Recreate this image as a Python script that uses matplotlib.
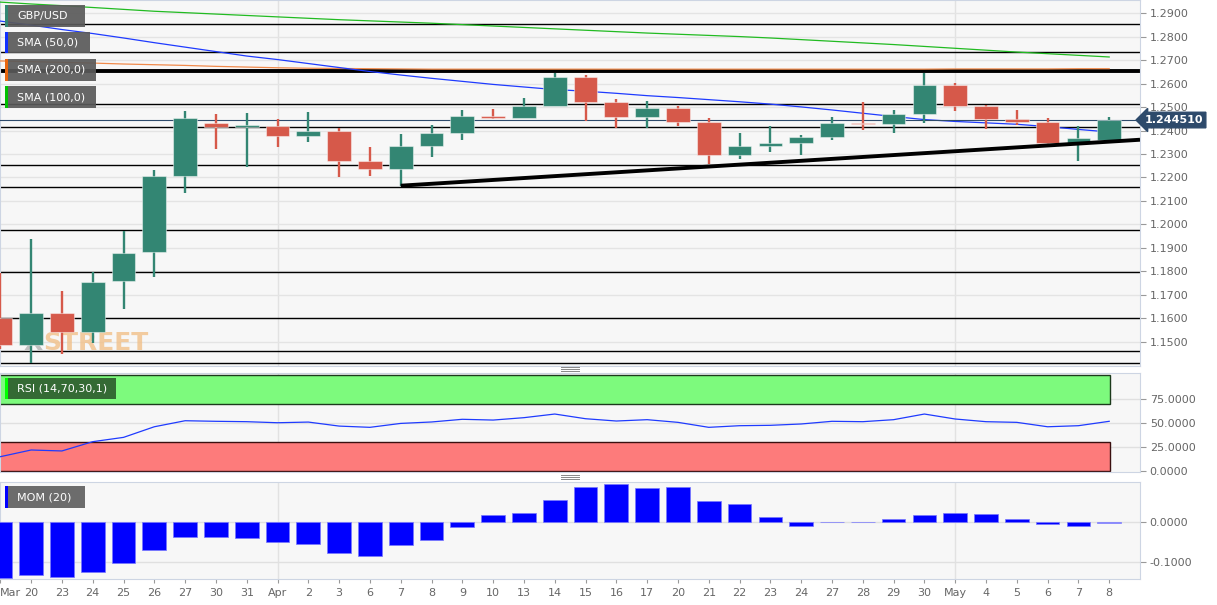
import numpy as np
import matplotlib.pyplot as plt
from matplotlib.patches import Rectangle
from matplotlib.lines import Line2D

# Data GBP/USD harian
labels = ['Mar', '20', '23', '24', '25', '26', '27', '30', '31', 'Apr', '2', '3', '6', '7',
          '8', '9', '10', '13', '14', '15', '16', '17', '20', '21', '22', '23', '24', '27',
          '28', '29', '30', 'May', '4', '5', '6', '7', '8']
opens = [1.1599, 1.1486, 1.1621, 1.1542, 1.1758, 1.1881, 1.2207, 1.2433, 1.2416, 1.2419,
         1.2377, 1.2399, 1.2270, 1.2235, 1.2334, 1.2388, 1.2462, 1.2455, 1.2506, 1.2627,
         1.2520, 1.2459, 1.2496, 1.2436, 1.2294, 1.2335, 1.2346, 1.2374, 1.2433, 1.2427,
         1.2471, 1.2596, 1.2506, 1.2448, 1.2436, 1.2346, 1.2360]
highs = [1.1792, 1.1936, 1.1714, 1.1798, 1.1973, 1.2232, 1.2483, 1.2471, 1.2474, 1.2448,
         1.2478, 1.2410, 1.2329, 1.2385, 1.2422, 1.2488, 1.2491, 1.2538, 1.2647, 1.2637,
         1.2533, 1.2525, 1.2505, 1.2452, 1.2388, 1.2419, 1.2381, 1.2456, 1.2522, 1.2488,
         1.2647, 1.2604, 1.2509, 1.2488, 1.2452, 1.2419, 1.2456]
lows = [1.1468, 1.1407, 1.1447, 1.1495, 1.1638, 1.1777, 1.2132, 1.2320, 1.2243, 1.2331,
        1.2350, 1.2203, 1.2207, 1.2165, 1.2289, 1.2360, 1.2448, 1.2453, 1.2505, 1.2440,
        1.2410, 1.2410, 1.2418, 1.2256, 1.2277, 1.2307, 1.2297, 1.2360, 1.2402, 1.2391,
        1.2431, 1.2485, 1.2405, 1.2422, 1.2334, 1.2270, 1.2360]
closes = [1.1485, 1.1621, 1.1542, 1.1755, 1.1879, 1.2206, 1.2453, 1.2416, 1.2421, 1.2377,
          1.2399, 1.2271, 1.2235, 1.2334, 1.2388, 1.2462, 1.2455, 1.2505, 1.2627, 1.2520,
          1.2459, 1.2496, 1.2436, 1.2294, 1.2334, 1.2346, 1.2372, 1.2433, 1.2427, 1.2471,
          1.2596, 1.2506, 1.2448, 1.2438, 1.2346, 1.2368, 1.24451]

sma50 = [1.2867, 1.2850, 1.2831, 1.2814, 1.2795, 1.2775, 1.2756, 1.2737, 1.2718, 1.2703,
         1.2686, 1.2669, 1.2652, 1.2637, 1.2623, 1.2610, 1.2597, 1.2586, 1.2575, 1.2568,
         1.2559, 1.2549, 1.2541, 1.2532, 1.2523, 1.2513, 1.2501, 1.2488, 1.2474, 1.2460,
         1.2447, 1.2439, 1.2433, 1.2427, 1.2417, 1.2405, 1.2394]
sma100 = [1.2948, 1.2940, 1.2933, 1.2925, 1.2917, 1.2909, 1.2903, 1.2897, 1.2891, 1.2885,
          1.2879, 1.2873, 1.2868, 1.2863, 1.2858, 1.2852, 1.2846, 1.2840, 1.2834, 1.2828,
          1.2822, 1.2816, 1.2811, 1.2806, 1.2801, 1.2795, 1.2788, 1.2781, 1.2774, 1.2767,
          1.2759, 1.2751, 1.2743, 1.2735, 1.2728, 1.2721, 1.2714]
sma200 = [1.2697, 1.2694, 1.2691, 1.2688, 1.2684, 1.2681, 1.2678, 1.2674, 1.2671, 1.2668,
          1.2666, 1.2665, 1.2664, 1.2663, 1.2662, 1.2662, 1.2662, 1.2662, 1.2662, 1.2662,
          1.2662, 1.2662, 1.2662, 1.2662, 1.2662, 1.2662, 1.2662, 1.2662, 1.2662, 1.2662,
          1.2662, 1.2663, 1.2663, 1.2663, 1.2663, 1.2664, 1.2664]

rsi = [15.0, 22.0, 21.0, 30.7, 35.2, 46.3, 52.6, 52.0, 51.6, 50.5, 51.2, 47.0, 45.7, 49.8,
       51.3, 54.1, 53.3, 55.8, 59.6, 54.7, 52.3, 53.7, 50.9, 45.7, 47.4, 47.8, 49.2, 52.0,
       51.6, 53.7, 59.6, 54.4, 51.6, 50.9, 46.3, 47.4, 52.0]
mom = [-0.1405, -0.1331, -0.1380, -0.1240, -0.1025, -0.0686, -0.0372, -0.0355, -0.0405,
       -0.0496, -0.0554, -0.0777, -0.0843, -0.0579, -0.0438, -0.0116, 0.0174, 0.0231,
       0.0562, 0.0901, 0.0959, 0.0861, 0.0885, 0.0533, 0.0451, 0.0139, -0.0082, 0.0016,
       0.0008, 0.0090, 0.0197, 0.0230, 0.0213, 0.0098, -0.0041, -0.0090, -0.0016]

# Garis support / resistance
levels = [1.2854, 1.2734, 1.2515, 1.2414, 1.2252, 1.2161, 1.1976, 1.1798, 1.1599, 1.1459, 1.1410]
level_tebal = 1.2654
trend_x = [13, 37.0]
trend_y = [1.2165, 1.2361]

W, H = 1217, 605
hijau = '#338673'
merah = '#d6594a'
bg = '#f7f7f7'
spine_c = '#cdd5e3'

fig = plt.figure(figsize=(W / 100, H / 100), dpi=100)
fig.patch.set_facecolor('white')


def px_axes(x0, y0, x1, y1):
    return fig.add_axes([x0 / W, 1 - y1 / H, (x1 - x0) / W, (y1 - y0) / H])


ax = px_axes(0, 0, 1140, 366)
ax_rsi = px_axes(0, 373, 1140, 472)
ax_mom = px_axes(0, 481.7, 1140, 579)

x = np.arange(len(labels))
for a in (ax, ax_rsi, ax_mom):
    a.set_facecolor(bg)
    a.set_xlim(-0.01, 37.0)
    a.yaxis.tick_right()
    a.tick_params(axis='y', colors='#999999', labelcolor='#666666', labelsize=8, length=4, pad=3)
    a.tick_params(axis='x', colors='#999999', labelcolor='#666666', labelsize=8, length=3)
    for s in a.spines.values():
        s.set_color(spine_c)
    for m in (9, 31):
        a.axvline(m, color='#e2e2e2', lw=1, zorder=0)

# Panel utama
ax.set_ylim(1.1396, 1.2957)
ticks = np.round(np.arange(1.15, 1.2901, 0.01), 2)
ax.set_yticks(ticks)
ax.set_yticklabels(['%.4f' % t for t in ticks])
for t in ticks:
    ax.axhline(t, color='#e4e4e4', lw=1, zorder=0)
ax.set_xticks([])

# Watermark
ax.text(43 / 30.8, 1.1492, 'STREET', color='#f1c089', fontsize=18, fontweight='bold',
        family=['Liberation Sans Narrow', 'DejaVu Sans'],
        ha='left', va='center', alpha=0.8, zorder=1)
ax.text(42 / 30.8, 1.1492, 'X', color='#b3b3b3', fontsize=18, fontweight='bold',
        family=['Liberation Sans Narrow', 'DejaVu Sans'],
        ha='right', va='center', alpha=0.8, zorder=1)

for lv in levels:
    ax.axhline(lv, color='black', lw=1.0, zorder=2)
ax.axhline(level_tebal, color='black', lw=2.8, zorder=2)

ax.plot(x, sma100, color='#22bb22', lw=0.9, zorder=3)
ax.plot(x, sma200, color='#f08a4b', lw=0.9, zorder=3)
ax.plot(x, sma50, color='#1f3bff', lw=0.9, zorder=3)

ax.axhline(closes[-1], color='#2d4a6b', lw=0.8, zorder=3)

warna = [hijau if c >= o else merah for o, c in zip(opens, closes)]
ax.vlines(x, lows, highs, colors=warna, lw=1.7, zorder=4)
bottom = np.minimum(opens, closes)
tinggi = np.maximum(np.abs(np.array(closes) - np.array(opens)), 0.0006)
ax.bar(x, tinggi, bottom=bottom, width=0.77, color=warna, edgecolor=(1, 1, 1, 0.45),
       linewidth=0.8, zorder=5)

ax.plot(trend_x, trend_y, color='black', lw=2.8, zorder=6, solid_capstyle='butt')

ax.text(1.004, closes[-1], '%.6f' % closes[-1], transform=ax.get_yaxis_transform(),
        color='white', fontsize=8, fontweight='bold', ha='left', va='center', zorder=10,
        bbox=dict(boxstyle='larrow,pad=0.25', fc='#2d4a6b', ec='#2d4a6b'), clip_on=False)

# Panel RSI
ax_rsi.set_ylim(-1, 102.5)
ax_rsi.set_yticks([0, 25, 50, 75])
ax_rsi.set_yticklabels(['0.0000', '25.0000', '50.0000', '75.0000'])
for t in (25, 50, 75):
    ax_rsi.axhline(t, color='#e0e0e0', lw=1, zorder=0)
ax_rsi.set_xticks([])
ujung = 36.03
ax_rsi.add_patch(Rectangle((-0.5, 70), ujung + 0.5, 30.5, fc='#7dfa7d', ec='#1c3a1c', lw=1, zorder=1))
ax_rsi.add_patch(Rectangle((-0.5, 0), ujung + 0.5, 30, fc='#fd7b7b', ec='#3a1010', lw=1, zorder=1))
ax_rsi.plot(x, rsi, color='#1f3bff', lw=0.9, zorder=3)

# Panel MOM
ax_mom.set_ylim(-0.1425, 0.1025)
ax_mom.set_yticks([-0.1, 0.0])
ax_mom.set_yticklabels(['-0.1000', '0.0000'])
for t in (-0.1, 0.0):
    ax_mom.axhline(t, color='#e0e0e0', lw=1, zorder=0)
warna_mom = ['#0000ff'] * (len(mom) - 1) + ['#9a9aff']
ax_mom.bar(x, mom, width=0.77, color=warna_mom, edgecolor='#7777ff', lw=0.5, zorder=3)
ax_mom.set_xticks(x)
ax_mom.set_xticklabels(labels)
ax_mom.get_xticklabels()[0].set_horizontalalignment('left')


# Kotak legenda
def tag(x0, y0, x1, y1, teks, bar_c, face='#5a5a5a'):
    fig.add_artist(Rectangle((x0 / W, 1 - y1 / H), (x1 - x0) / W, (y1 - y0) / H,
                             transform=fig.transFigure, fc=face, ec='none', alpha=0.92, zorder=20))
    fig.add_artist(Rectangle((x0 / W, 1 - y1 / H), 3 / W, (y1 - y0) / H,
                             transform=fig.transFigure, fc=bar_c, ec='none', zorder=21))
    fig.text(17 / W, 1 - (y0 + y1) / 2 / H, teks, color='white', fontsize=8,
             va='center', ha='left', zorder=22)


tag(5, 5, 85, 27, 'GBP/USD', hijau)
tag(5, 32, 90, 53, 'SMA (50,0)', '#1030ff')
tag(5, 59, 96, 81, 'SMA (200,0)', '#e8660f')
tag(5, 86, 96, 108, 'SMA (100,0)', '#00c000')
tag(5, 378, 116, 399, 'RSI (14,70,30,1)', '#00ff00', face='#2e5e2e')
tag(5, 486, 85, 508, 'MOM (20)', '#0000ff', face='#606060')

# Ikon pegangan panel
for yy in (367, 369, 371, 475, 477, 479):
    fig.add_artist(Line2D([561 / W, 579 / W], [1 - yy / H, 1 - yy / H],
                          transform=fig.transFigure, color='#888888', lw=0.7))

fig.savefig('out.png', dpi=100, facecolor='white')
